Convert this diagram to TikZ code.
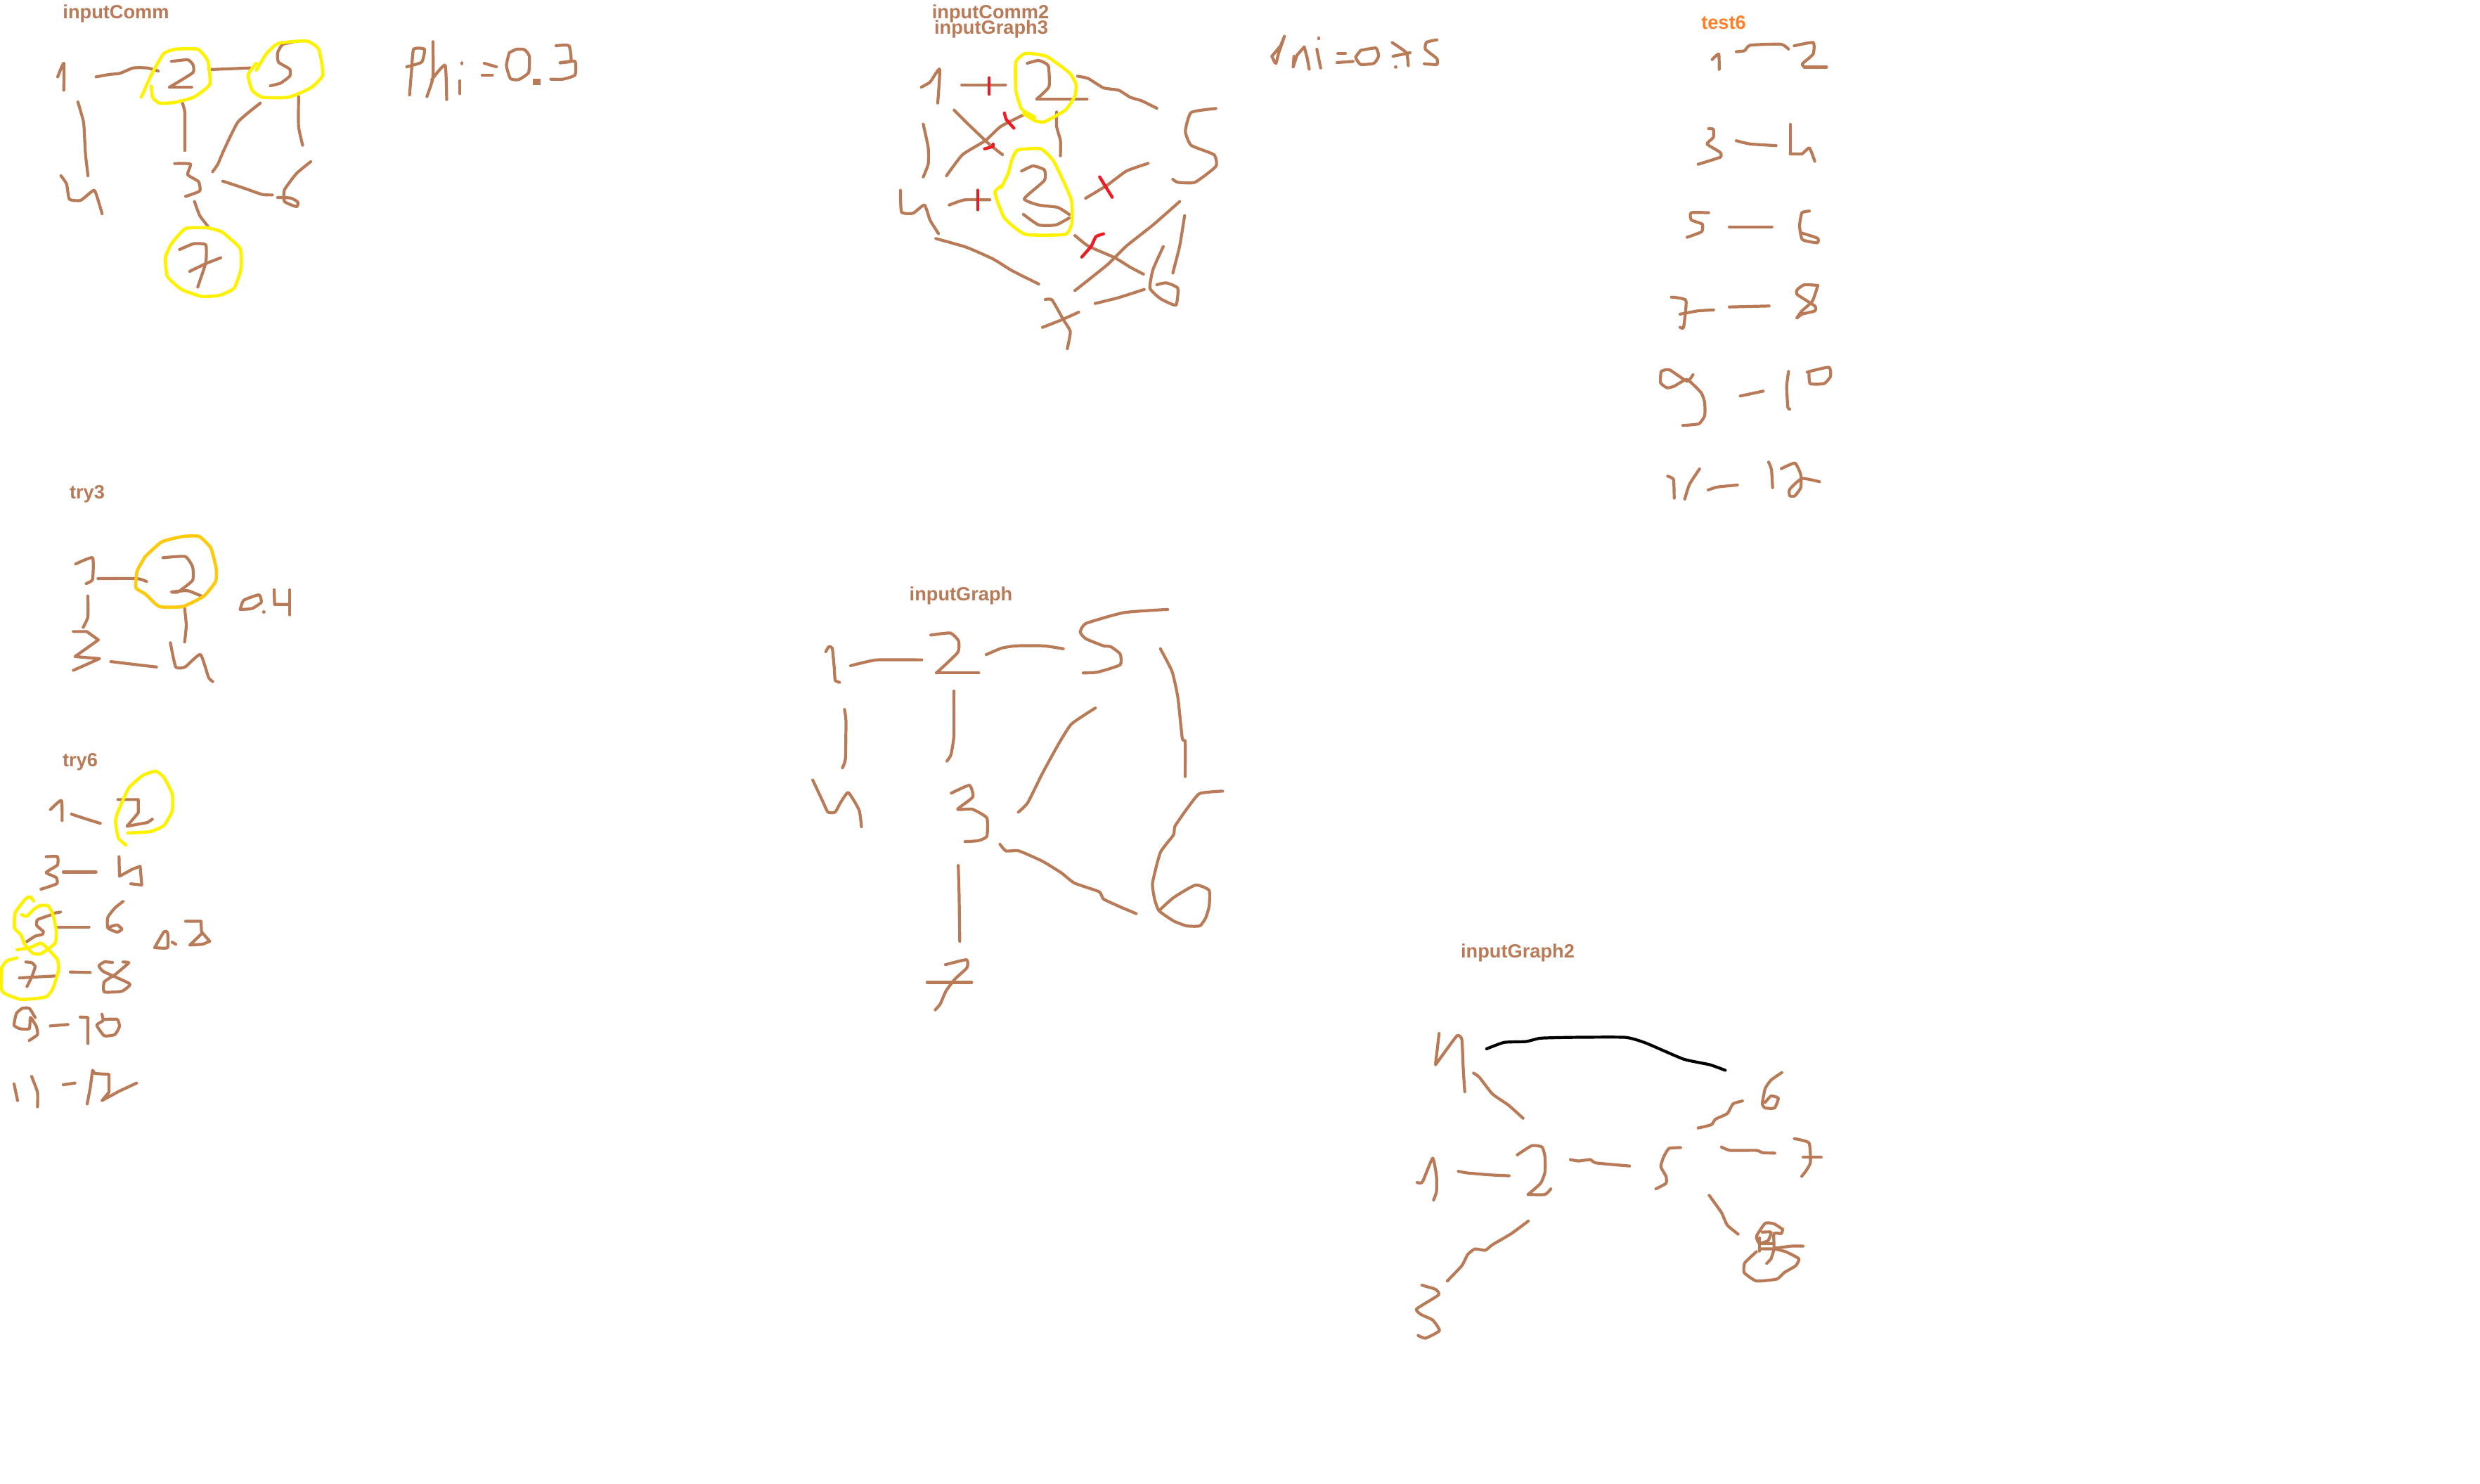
\documentclass[tikz,border=0pt]{standalone}
\usepackage{fontspec}
\setmainfont{Liberation Sans}
\definecolor{brn}{HTML}{B97A57}
\definecolor{yel}{HTML}{FFF200}
\definecolor{gold}{HTML}{FFC90E}
\definecolor{rd}{HTML}{ED1C24}
\definecolor{org}{HTML}{FF7F27}
\tikzset{
 br/.style={draw=brn,line width=2.1pt,line cap=round,line join=round},
 ye/.style={draw=yel,line width=2.3pt,line cap=round,line join=round},
 go/.style={draw=gold,line width=2.3pt,line cap=round,line join=round},
 re/.style={draw=rd,line width=2.2pt,line cap=round,line join=round},
 bk/.style={draw=black,line width=2.1pt,line cap=round,line join=round},
 ttl/.style={text=brn,font=\fontsize{13.6pt}{14pt}\selectfont\bfseries,inner sep=0pt},
 frameA/.style={x=0.2870pt,y=-0.16667pt},
 frameB/.style={shift={(625pt,0pt)},x=0.2710pt,y=-0.16667pt},
 frameC/.style={shift={(1150pt,0pt)},x=0.16667pt,y=-0.23278pt},
 frameD/.style={shift={(0pt,-335pt)},x=0.16667pt,y=-0.29656pt},
 frameE/.style={shift={(565pt,-405pt)},x=0.20747pt,y=-0.20747pt},
 frameF/.style={shift={(990pt,-660pt)},x=0.20747pt,y=-0.1985pt},
 frameG/.style={shift={(0pt,-625pt)},x=0.16667pt,y=-0.16667pt},
}
\newcommand\skt[2]{\draw[#1] plot[smooth,tension=0.3] coordinates {#2};}
\newcommand\sks[2]{\draw[#1] plot coordinates {#2};}
\begin{document}
\begin{tikzpicture}
\useasboundingbox (0pt,0pt) rectangle (1764pt,-1055pt);
\node[ttl] (t1) at (82.5pt,-9.5pt) {inputComm};
\node[ttl] (t2) at (704.5pt,-9.5pt) {inputComm2};
\node[ttl] (t3) at (705pt,-20.5pt) {inputGraph3};
\node[ttl,text=org] (t4) at (1226pt,-16pt) {test6};
\node[ttl] (t5) at (62pt,-351.5pt) {try3};
\node[ttl] (t6) at (57pt,-542pt) {try6};
\node[ttl] (t7) at (683.5pt,-423.5pt) {inputGraph};
\node[ttl] (t8) at (1079.5pt,-677.5pt) {inputGraph2};
% inputComm
\begin{scope}[frameA]
\skt{br}{(143,328)(158,270)(158,385)}
\skt{br}{(238,328)(270,318)(297,313)(330,290)(365,290)(392,303)}
\skt{br}{(425,262)(465,255)(478,275)(478,310)(420,372)}
\skt{br}{(420,372)(475,372)}
\skt{br}{(518,297)(620,290)}
\skt{br}{(725,180)(700,190)(688,225)(690,265)(718,295)(718,325)(695,355)(670,366)}
\skt{br}{(193,435)(207,520)(210,600)(212,660)(218,750)}
\skt{br}{(151,750)(165,785)(172,850)(200,855)(233,812)(245,865)(253,912)}
\skt{br}{(452,440)(458,480)(458,642)}
\skt{br}{(645,440)(590,520)(555,640)(540,700)(527,733)}
\skt{br}{(740,412)(740,540)(750,620)}
\skt{br}{(433,698)(472,700)(465,745)(492,775)(495,815)(460,838)}
\skt{br}{(552,773)(600,800)(650,830)(675,832)}
\skt{br}{(770,690)(735,740)(705,810)(705,860)(735,882)(738,862)(720,845)(688,843)}
\skt{br}{(482,860)(495,920)(515,965)}
\skt{br}{(445,1065)(480,1040)(510,1045)(510,1120)(490,1225)}
\skt{br}{(470,1158)(510,1125)(547,1100)}
\skt{br}{(1008,285)(1045,265)(1052,210)(1025,210)(1020,300)(1015,405)}
\skt{br}{(1073,178)(1073,330)(1058,412)}
\skt{br}{(1070,340)(1103,278)(1107,425)}
\skt{br}{(1145,268)(1145,272)}
\skt{br}{(1140,345)(1140,400)}
\skt{br}{(1200,270)(1230,285)}
\skt{br}{(1195,320)(1220,320)}
\skt{br}{(1262,225)(1280,210)(1300,212)(1312,240)(1310,310)(1285,340)(1265,335)(1255,280)(1262,225)}
\fill[brn] (1320,335) rectangle (1340,362);
\skt{br}{(1378,195)(1410,195)(1415,260)(1388,268)}
\skt{br}{(1388,268)(1425,262)(1425,320)(1395,338)(1365,338)}
\skt{ye}{(350,415)(375,320)(405,230)(435,210)(490,210)(515,260)(520,360)(480,415)(430,438)(395,440)(378,415)(375,368)}
\skt{ye}{(635,300)(660,230)(690,185)(760,175)(790,210)(800,320)(770,375)(715,415)(650,415)(625,385)(615,320)(635,270)}
\skt{ye}{(515,972)(460,975)(425,1040)(410,1100)(415,1180)(450,1235)(500,1265)(545,1260)(580,1230)(597,1150)(595,1060)(550,990)(515,972)}
\end{scope}
% inputComm2 / inputGraph3
\begin{scope}[frameB]
\skt{br}{(112,372)(135,350)(160,295)(155,440)}
\skt{br}{(218,362)(333,362)}
\skt{br}{(390,270)(420,258)(445,280)(447,370)(415,422)}
\skt{br}{(415,422)(547,422)}
\skt{br}{(522,325)(550,335)(590,375)(630,385)(660,415)(690,430)(730,462)}
\skt{br}{(885,463)(820,480)(805,560)(820,620)(880,660)(885,710)(830,778)(785,778)(772,765)}
\skt{br}{(117,530)(130,630)(130,700)(117,755)}
\skt{br}{(198,470)(235,530)(290,615)(325,660)}
\skt{br}{(380,490)(320,540)(280,600)(220,660)(178,750)}
\skt{br}{(467,478)(467,540)(477,600)(477,665)}
\skt{br}{(57,812)(60,905)(90,910)(120,875)(135,940)(157,997)}
\skt{br}{(185,875)(225,853)(292,853)}
\skt{br}{(375,730)(405,708)(435,725)(435,770)(382,848)(420,875)(470,885)(500,915)}
\skt{br}{(380,915)(420,960)(465,960)(500,930)}
\skt{br}{(543,846)(600,790)(650,730)(707,697)}
\skt{br}{(515,1005)(550,1050)(620,1100)(660,1140)(695,1170)}
\skt{br}{(150,1018)(230,1055)(300,1105)(350,1155)(420,1212)}
\skt{br}{(790,860)(720,960)(650,1050)(600,1130)(515,1240)}
\skt{br}{(803,920)(790,1050)(772,1165)}
\skt{br}{(747,1052)(720,1150)(712,1230)(740,1275)(780,1302)(785,1230)(755,1207)(730,1215)}
\skt{br}{(697,1235)(630,1270)(568,1295)}
\skt{br}{(437,1278)(455,1280)(485,1365)(503,1415)(495,1488)}
\skt{br}{(430,1397)(480,1365)(525,1332)}
\skt{re}{(290,332)(290,402)}
\skt{re}{(330,482)(335,510)(355,547)}
\skt{re}{(278,635)(300,625)(300,615)}
\skt{re}{(260,812)(260,895)}
\skt{re}{(580,755)(597,800)(613,842)}
\skt{re}{(590,998)(570,1010)(558,1050)(533,1097)}
\skt{ye}{(380,485)(410,515)(435,520)(490,470)(515,410)(518,360)(500,310)(440,240)(385,228)(360,265)(360,385)(375,465)(410,500)}
\skt{ye}{(325,790)(305,822)(330,930)(385,1000)(490,1000)(507,950)(505,850)(460,690)(425,635)(365,640)(350,680)(340,740)(322,800)}
\sks{br}{(1032,240)(1055,195)(1065,155)(1050,225)(1043,270)}
\sks{br}{(1032,240)(1040,268)}
\sks{br}{(1088,285)(1098,235)(1117,200)(1125,250)(1130,295)}
\skt{br}{(1088,285)(1090,240)}
\skt{br}{(1155,162)(1155,165)}
\skt{br}{(1150,210)(1160,290)}
\skt{br}{(1205,228)(1225,228)}
\skt{br}{(1203,267)(1245,262)}
\skt{br}{(1265,215)(1305,205)(1312,240)(1300,270)(1265,275)(1252,245)(1265,215)}
\skt{br}{(1348,182)(1385,225)(1390,280)}
\skt{br}{(1350,240)(1395,225)}
\skt{br}{(1357,285)(1357,287)}
\skt{br}{(1465,170)(1438,180)(1435,210)(1465,250)(1465,275)(1432,272)}
\end{scope}
% test6
\begin{scope}[frameC]
\skt{br}{(407,182)(435,165)(437,212)}
\skt{br}{(510,158)(545,155)(570,138)(700,135)(733,150)}
\skt{br}{(757,140)(838,130)(838,165)(792,195)(800,205)}
\skt{br}{(800,205)(895,205)}
\skt{br}{(392,393)(412,395)(412,420)(385,440)(440,465)(442,480)(347,502)}
\skt{br}{(510,430)(570,440)(680,445)}
\skt{br}{(740,380)(740,470)}
\skt{br}{(740,470)(790,470)(822,452)(845,493)}
\skt{br}{(392,650)(317,650)(318,672)(365,685)(362,708)(300,725)}
\skt{br}{(480,693)(662,693)}
\skt{br}{(822,645)(790,650)(780,690)(792,732)(855,742)(857,728)(790,712)}
\skt{br}{(233,908)(295,918)(285,1000)(270,1000)}
\skt{br}{(270,960)(345,950)(413,947)}
\skt{br}{(480,938)(650,935)}
\skt{br}{(858,872)(800,870)(770,885)(770,900)(845,935)(845,950)(790,960)(768,972)(790,950)(835,920)(858,872)}
\skt{br}{(325,1145)(300,1165)(225,1130)(190,1135)(187,1170)(215,1185)(245,1180)(300,1160)(360,1200)(375,1230)(375,1270)(350,1295)(282,1300)}
\skt{br}{(527,1210)(625,1195)}
\skt{br}{(733,1135)(725,1180)(730,1245)(738,1250)}
\skt{br}{(812,1137)(905,1122)(912,1150)(885,1172)(825,1172)(820,1135)}
\skt{br}{(217,1455)(242,1465)(245,1522)}
\skt{br}{(353,1433)(310,1480)(290,1525)}
\skt{br}{(390,1497)(430,1488)(515,1482)}
\skt{br}{(648,1412)(660,1435)(665,1490)}
\skt{br}{(702,1432)(760,1415)(785,1450)(785,1490)(760,1515)(738,1515)(738,1495)(790,1462)(865,1472)}
\end{scope}
% try3 and upper try6
\begin{scope}[frameD]
\skt{br}{(323,223)(395,208)(395,260)(368,270)}
\skt{br}{(418,258)(585,258)(625,265)}
\skt{br}{(695,208)(790,205)(822,230)(822,262)(760,290)(732,290)(800,287)(860,300)}
\skt{br}{(375,300)(375,350)(355,375)}
\sks{br}{(313,385)(370,385)(420,405)(320,445)(425,450)(313,478)}
\skt{br}{(473,457)(590,465)(668,470)}
\skt{br}{(788,330)(795,370)(788,410)}
\skt{br}{(727,412)(750,470)(790,470)(855,440)(890,495)(908,505)}
\skt{br}{(1025,332)(1040,310)(1105,297)(1115,315)(1075,330)(1025,332)}
\skt{br}{(1125,338)(1127,338)}
\sks{br}{(1170,285)(1172,320)(1235,320)}
\skt{br}{(1237,285)(1237,345)}
\skt{go}{(620,205)(690,170)(780,157)(850,157)(900,185)(923,235)(920,265)(870,300)(780,325)(680,325)(620,295)(580,280)(585,240)(620,205)}
\skt{br}{(215,812)(262,790)(265,838)}
\skt{br}{(305,823)(370,835)(428,845)}
\sks{br}{(503,788)(590,788)(590,820)(542,852)(630,843)(650,835)}
\skt{br}{(197,925)(245,925)(245,945)(197,963)(240,975)(242,990)(175,1003)}
\skt{br}{(270,962)(410,962)}
\sks{br}{(508,925)(510,972)(565,955)(598,948)(605,993)(558,990)}
\skt{br}{(660,1143)(700,1105)(715,1107)(715,1143)(660,1143)}
\skt{br}{(735,1130)(750,1135)}
\sks{br}{(792,1080)(858,1080)(860,1105)(895,1128)(865,1135)(810,1137)(860,1110)}
\skt{br}{(60,1470)(75,1510)}
\skt{br}{(135,1452)(160,1490)(160,1525)}
\skt{br}{(270,1472)(320,1468)}
\sks{br}{(372,1518)(385,1480)(395,1437)(405,1445)(465,1447)(465,1490)(435,1510)(510,1487)(583,1468)}
\skt{ye}{(537,897)(505,880)(493,840)(505,815)(550,760)(610,730)(665,720)(700,735)(735,775)(735,815)(700,850)(640,865)(545,868)}
\end{scope}
% try6, middle rows
\begin{scope}[frameG]
\skt{br}{(225,148)(258,142)}
\skt{br}{(215,155)(160,175)(157,200)(185,225)(180,238)(150,245)(115,268)}
\skt{br}{(237,207)(380,207)}
\skt{br}{(525,97)(490,125)(460,165)(460,210)(500,228)(520,215)(500,197)(470,205)}
\skt{br}{(110,355)(135,358)(150,375)(135,420)(115,460)}
\skt{br}{(83,423)(235,415)}
\skt{br}{(300,398)(385,400)}
\skt{br}{(480,357)(445,355)(422,372)(440,395)(490,418)(555,450)(520,480)(445,483)(445,440)(490,410)(520,385)(550,358)(525,355)}
\skt{br}{(150,592)(125,553)(95,553)(70,575)(60,625)(85,640)(125,640)(130,592)(155,630)(160,665)(125,690)}
\skt{br}{(215,628)(290,622)}
\sks{br}{(342,590)(375,592)(375,703)}
\skt{br}{(435,578)(440,605)(413,625)(445,670)(490,665)(510,630)(500,600)(450,600)}
\skt{ye}{(143,95)(130,78)(110,85)(65,145)(62,210)(90,240)(105,280)(140,318)(175,320)(235,275)(240,220)(225,150)(205,115)(170,115)(145,130)(115,160)(92,153)}
\skt{ye}{(73,303)(125,295)(175,275)(205,300)(245,345)(250,390)(225,470)(195,505)(90,515)(20,490)(5,465)(8,380)(30,350)(72,338)}
\end{scope}
% inputGraph
\begin{scope}[frameE]
\skt{br}{(108,282)(118,265)(130,270)(137,340)(140,380)(155,387)}
\skt{br}{(193,330)(225,322)(285,310)(437,310)}
\skt{br}{(468,225)(535,218)(563,245)(560,285)(487,355)}
\skt{br}{(487,355)(632,355)}
\skt{br}{(658,292)(710,270)(760,262)(855,262)(922,272)}
\skt{br}{(1280,137)(1130,148)(1000,185)(980,215)(1000,238)(1060,262)(1085,265)(1117,290)(1117,327)(1040,352)(990,355)}
\skt{br}{(172,480)(177,520)(175,650)(165,680)}
\skt{br}{(547,417)(547,570)(537,635)(523,657)}
\skt{br}{(1032,475)(950,530)(905,600)(850,700)(800,800)(768,832)}
\skt{br}{(1255,272)(1295,350)(1315,440)(1330,580)(1340,590)(1340,710)}
\skt{br}{(63,722)(95,790)(115,832)(140,832)(158,800)(185,765)(222,825)(230,882)}
\skt{br}{(538,767)(600,740)(612,780)(560,822)(610,822)(660,852)(660,915)(630,930)(585,933)}
\skt{br}{(705,942)(725,965)(770,965)(850,1000)(915,1040)(960,1075)(1045,1105)(1060,1130)(1120,1158)(1172,1180)}
\skt{br}{(562,1015)(565,1120)(567,1275)}
\skt{br}{(1468,760)(1390,768)(1350,815)(1305,880)(1300,910)(1255,970)(1228,1075)(1235,1130)(1250,1170)(1300,1205)(1345,1222)(1390,1222)(1410,1195)(1422,1155)(1422,1100)(1375,1082)(1300,1125)(1250,1170)}
\skt{br}{(518,1355)(590,1338)(592,1365)(550,1405)(520,1445)(500,1490)(483,1510)}
\skt{br}{(455,1416)(608,1416)}
\end{scope}
% inputGraph2
\begin{scope}[frameF]
\skt{br}{(162,378)(150,485)}
\skt{br}{(150,490)(195,425)(225,385)(240,400)(245,510)(250,587)}
\skt{br}{(87,912)(105,910)(140,825)(153,890)(153,945)(143,975)}
\skt{br}{(228,872)(260,878)(340,885)(402,888)}
\skt{br}{(430,813)(480,780)(515,785)(525,820)(525,875)(510,915)(467,955)}
\skt{br}{(467,955)(525,955)(545,935)}
\skt{br}{(612,830)(640,835)(680,830)(700,842)(815,853)}
\skt{br}{(990,787)(950,790)(932,820)(922,855)(940,890)(940,915)(905,935)}
\skt{br}{(280,520)(300,535)(345,595)(400,635)(450,682)}
\skt{br}{(468,1050)(410,1095)(345,1135)(320,1155)(285,1150)(260,1170)(240,1210)(190,1265)}
\skt{br}{(103,1280)(150,1295)(160,1315)(85,1365)(100,1385)(140,1405)(163,1443)(115,1470)(90,1460)}
\skt{bk}{(325,433)(385,410)(460,407)(510,395)(620,392)(800,392)(870,412)(1000,470)(1090,490)(1143,510)}
\skt{br}{(1050,717)(1095,705)(1110,685)(1150,665)(1170,630)(1202,620)}
\skt{br}{(1337,518)(1300,545)(1280,575)(1270,630)(1280,645)(1312,645)(1325,610)(1300,602)(1280,625)}
\skt{br}{(1130,785)(1160,797)(1250,797)(1270,805)(1313,807)}
\skt{br}{(1380,755)(1430,770)(1435,840)(1420,870)(1405,890)}
\skt{br}{(1410,822)(1472,822)}
\skt{br}{(1088,958)(1130,1020)(1150,1065)(1187,1097)}
\skt{br}{(1340,1080)(1310,1060)(1280,1058)(1250,1105)(1260,1130)(1290,1120)(1300,1090)(1270,1090)}
\skt{br}{(1340,1080)(1335,1095)(1310,1095)(1310,1150)(1300,1185)(1285,1202)}
\skt{br}{(1260,1110)(1260,1158)}
\skt{br}{(1260,1130)(1310,1130)}
\skt{br}{(1250,1160)(1210,1200)(1208,1235)(1250,1265)(1320,1258)(1345,1235)(1385,1210)(1395,1185)(1350,1160)(1310,1150)(1260,1150)}
\skt{br}{(1310,1148)(1370,1140)(1410,1140)}
\end{scope}
\end{tikzpicture}
\end{document}
